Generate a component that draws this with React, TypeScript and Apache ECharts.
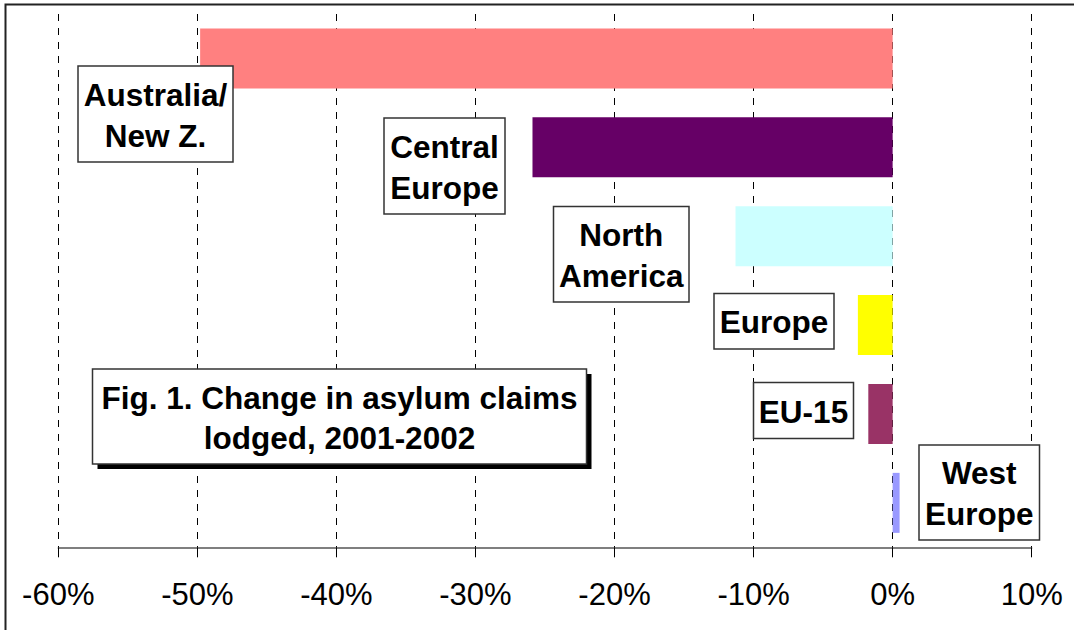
import React, { useEffect, useRef } from "react";
import * as echarts from "echarts";

const categories = ["Australia/\nNew Z.", "Central\nEurope", "North\nAmerica", "Europe", "EU-15", "West\nEurope"];
const values = [-49.8, -25.9, -11.3, -2.5, -1.75, 0.5];
const barColors = ["#FF8080", "#660066", "#CCFFFF", "#FFFF00", "#993366", "#9999FF"];
const tickMin = -60;
const tickMax = 10;
const tickStep = 10;
const titleLines = ["Fig. 1. Change in asylum claims", "lodged, 2001-2002"];

// label box placement (annotation boxes, pixels)
const labelBoxes = [
  { x: 78, y: 66, w: 155, h: 96 },
  { x: 384, y: 118, w: 121, h: 96 },
  { x: 553.5, y: 206.5, w: 135.5, h: 95.5 },
  { x: 714, y: 293.5, w: 120, h: 55.5 },
  { x: 753.5, y: 382.5, w: 100, h: 56 },
  { x: 919, y: 445, w: 120.5, h: 95 },
];

const LABEL_FONT = 'bold 31.5px "Liberation Sans", Arial, sans-serif';

export default function App() {
  const ref = useRef<HTMLDivElement>(null);
  useEffect(() => {
    const chart = echarts.init(ref.current!, null, { renderer: "svg" });
    const graphics: any[] = [];
    // outer frame (left + top edges visible)
    graphics.push({
      type: "polyline",
      shape: { points: [[5.5, 640], [5.5, 4.5], [1090, 4.5]] },
      style: { stroke: "#222", lineWidth: 2, fill: "none" },
      z: 10,
    });
    labelBoxes.forEach((b, i) => {
      graphics.push({
        type: "rect",
        shape: { x: b.x, y: b.y, width: b.w, height: b.h },
        style: { fill: "#fff", stroke: "#333", lineWidth: 1.5 },
        z: 20,
      });
      graphics.push({
        type: "text",
        x: b.x + b.w / 2,
        y: b.y + b.h / 2 + 1,
        style: {
          text: categories[i],
          font: LABEL_FONT,
          fill: "#000",
          align: "center",
          verticalAlign: "middle",
          lineHeight: 41,
        },
        z: 21,
      });
    });
    // title box with shadow
    const t = { x: 92.5, y: 369, w: 494, h: 95 };
    graphics.push({
      type: "rect",
      shape: { x: t.x + 5, y: t.y + 5, width: t.w, height: t.h },
      style: { fill: "#000" },
      z: 20,
    });
    graphics.push({
      type: "rect",
      shape: { x: t.x, y: t.y, width: t.w, height: t.h },
      style: { fill: "#fff", stroke: "#333", lineWidth: 1.5 },
      z: 21,
    });
    graphics.push({
      type: "text",
      x: t.x + t.w / 2,
      y: t.y + t.h / 2 + 1,
      style: {
        text: titleLines.join("\n"),
        font: LABEL_FONT,
        fill: "#000",
        align: "center",
        verticalAlign: "middle",
        lineHeight: 40,
      },
      z: 22,
    });

    chart.setOption({
      animation: false,
      backgroundColor: "#fff",
      grid: { left: 58.3, right: 42.3, top: 14, bottom: 82.7, containLabel: false },
      xAxis: {
        type: "value",
        min: tickMin,
        max: tickMax,
        interval: tickStep,
        axisLine: { show: true, onZero: false, lineStyle: { color: "#555", width: 1.5 } },
        axisTick: { show: true, length: 10, lineStyle: { color: "#000", width: 1 } },
        axisLabel: {
          formatter: (v: number) => `${v}%`,
          fontSize: 31,
          fontFamily: '"Liberation Sans", Arial, sans-serif',
          color: "#000",
          margin: 32,
        },
        splitLine: { show: true, lineStyle: { color: "#000", type: [7, 7], width: 1 } },
      },
      yAxis: {
        type: "category",
        data: categories,
        inverse: true,
        axisLine: { show: false },
        axisTick: { show: false },
        axisLabel: { show: false },
        splitLine: { show: false },
      },
      series: [
        {
          type: "bar",
          barWidth: 60,
          data: values.map((v, i) => ({ value: v, itemStyle: { color: barColors[i] } })),
          label: { show: false },
          z: 5,
        },
      ],
      graphic: graphics,
    });
    return () => chart.dispose();
  }, []);
  return (
    <div
      ref={ref}
      style={{ position: "fixed", left: 0, top: 0, width: 1074, height: 630, background: "#fff" }}
    />
  );
}
